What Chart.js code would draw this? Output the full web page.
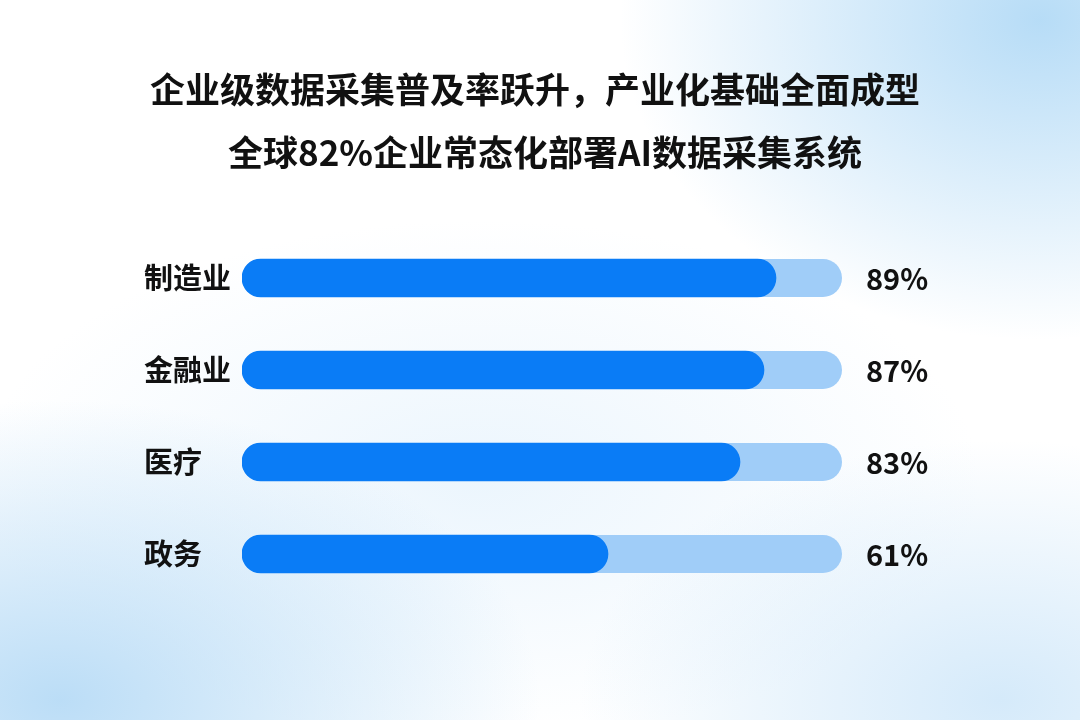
<!DOCTYPE html>
<html><head><meta charset="utf-8">
<script src="https://cdn.jsdelivr.net/npm/chart.js@4.4.1/dist/chart.umd.min.js"></script>
<style>
html,body{margin:0;padding:0;width:1080px;height:720px;overflow:hidden;}
body{background:
 radial-gradient(ellipse 420px 320px at 1040px 20px, rgba(170,214,245,0.85), rgba(200,230,250,0) 100%),
 radial-gradient(ellipse 480px 300px at 60px 700px, rgba(175,215,245,0.85), rgba(200,230,250,0) 100%),
 radial-gradient(ellipse 420px 260px at 1000px 700px, rgba(195,225,248,0.7), rgba(210,235,250,0) 100%),
 radial-gradient(ellipse 500px 260px at 480px 480px, rgba(220,238,252,0.55), rgba(255,255,255,0) 100%),
 #ffffff;}
#wrap{position:absolute;left:0;top:0;width:1080px;height:720px;}
</style></head>
<body><div id="wrap"><canvas id="c" width="1080" height="720"></canvas></div>
<script>
const titleLines = ["企业级数据采集普及率跃升，产业化基础全面成型", "全球82%企业常态化部署AI数据采集系统"];
const categories = ["制造业", "金融业", "医疗", "政务"];
const values = [89, 87, 83, 61];
const valueLabels = ["89%", "87%", "83%", "61%"];
const scaleMax = 100;

const FONT = '"Noto Sans CJK SC","Noto Sans",sans-serif';

const trackPlugin = {
  id: 'track',
  beforeDatasetsDraw(chart) {
    const {ctx, scales:{x}} = chart;
    const meta = chart.getDatasetMeta(0);
    ctx.save();
    ctx.fillStyle = '#a0cdf8';
    meta.data.forEach((bar) => {
      const h = bar.height;
      const x0 = x.getPixelForValue(0), x1 = x.getPixelForValue(scaleMax);
      ctx.beginPath();
      ctx.roundRect(x0, bar.y - h/2, x1 - x0, h, h/2);
      ctx.fill();
    });
    ctx.restore();
  },
  afterDraw(chart) {
    const {ctx, scales:{x}} = chart;
    const meta = chart.getDatasetMeta(0);
    ctx.save();
    ctx.fillStyle = '#111111';
    ctx.font = 'bold 29px ' + FONT;
    ctx.textBaseline = 'middle';
    ctx.textAlign = 'left';
    meta.data.forEach((bar, i) => {
      ctx.fillText(valueLabels[i], x.getPixelForValue(scaleMax) + 24, bar.y + 1);
    });
    ctx.font = 'bold 35px ' + FONT;
    ctx.textAlign = 'center';
    ctx.fillText(titleLines[0], 535, 90);
    ctx.fillText(titleLines[1], 545, 153);
    ctx.restore();
  }
};

new Chart(document.getElementById('c'), {
  type: 'bar',
  data: {
    labels: categories,
    datasets: [{
      data: values,
      backgroundColor: '#0a7cf6',
      borderRadius: 19,
      borderSkipped: false,
      barThickness: 38
    }]
  },
  options: {
    indexAxis: 'y',
    responsive: false,
    animation: false,
    layout: { padding: { left: 144, right: 238, top: 232, bottom: 120 } },
    plugins: { legend: { display: false }, tooltip: { enabled: false }, title: { display: false } },
    scales: {
      x: { min: 0, max: scaleMax, display: false },
      y: {
        grid: { display: false },
        border: { display: false },
        afterFit(scale) { scale.width = 98; },
        ticks: { color: '#111111', font: { family: FONT, size: 29, weight: 'bold' }, padding: 10, crossAlign: 'far' }
      }
    }
  },
  plugins: [trackPlugin]
});
</script>
</body></html>
